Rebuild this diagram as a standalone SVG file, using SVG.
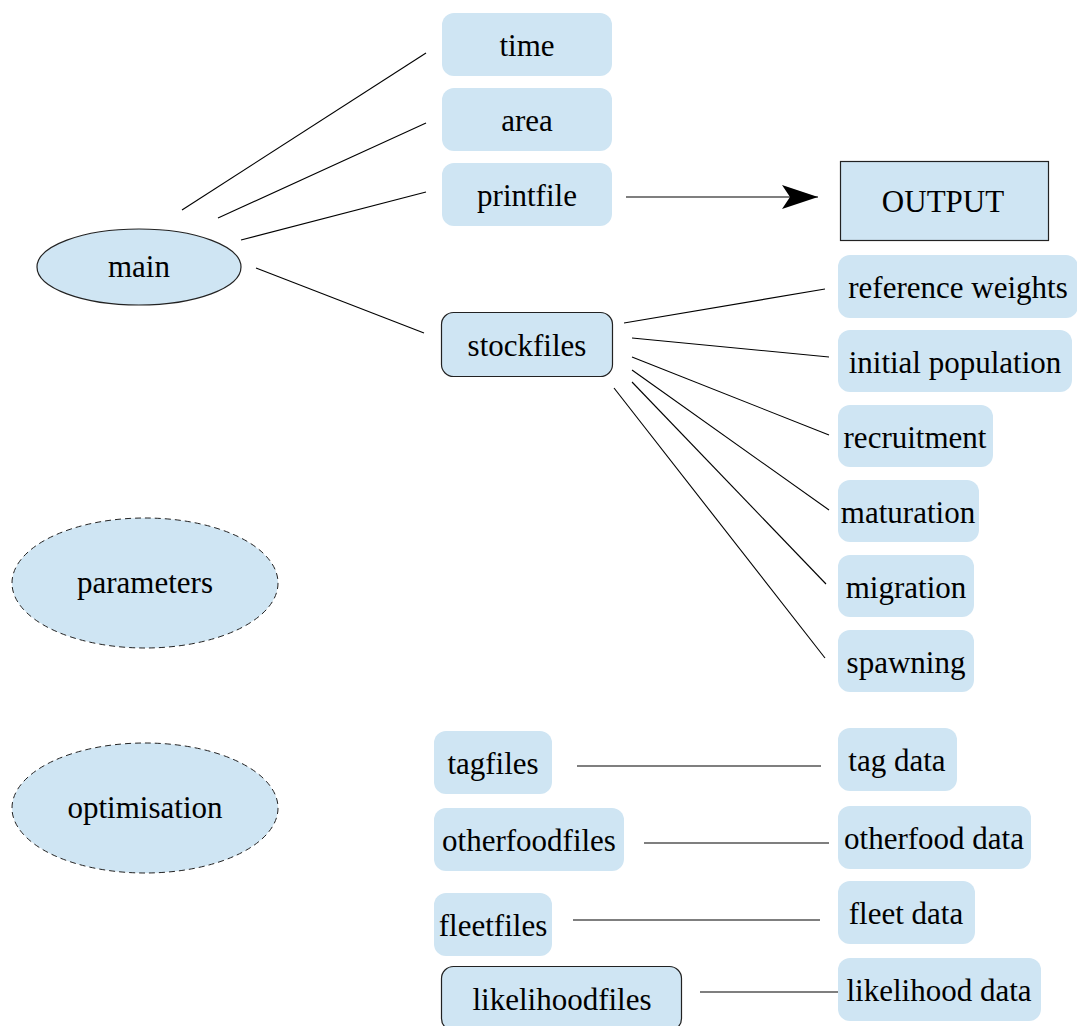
<svg xmlns="http://www.w3.org/2000/svg" width="1077" height="1026" viewBox="0 0 1077 1026" font-family="Liberation Serif, DejaVu Serif, serif">
<style>
.n{fill:#cfe5f3;stroke:none}
.s{fill:#cfe5f3;stroke:#222;stroke-width:1.2}
.d{fill:#cfe5f3;stroke:#222;stroke-width:1;stroke-dasharray:6 4}
text{font-size:31px;fill:#000;text-anchor:middle}
#connectors line{stroke:#000;stroke-width:1.1}
</style>
<defs>
<marker id="arr" markerUnits="userSpaceOnUse" markerWidth="40" markerHeight="30" refX="36" refY="12" orient="auto">
<path d="M0,0 L36,12 L0,24 L8,12 Z" fill="#000"/>
</marker>
</defs>
<rect width="1077" height="1026" fill="#fff"/>
<g id="connectors">
<line x1="182" y1="210" x2="426" y2="53"/>
<line x1="218" y1="218" x2="426" y2="123"/>
<line x1="241" y1="240" x2="426" y2="192"/>
<line x1="256" y1="268" x2="424" y2="333"/>
<line x1="626" y1="197" x2="818" y2="197" marker-end="url(#arr)"/>
<line x1="624" y1="323" x2="825" y2="289"/>
<line x1="632" y1="338" x2="829" y2="357"/>
<line x1="632" y1="357" x2="829" y2="435"/>
<line x1="632" y1="370" x2="829" y2="510"/>
<line x1="632" y1="382" x2="826" y2="584"/>
<line x1="614" y1="388" x2="825" y2="658"/>
<line x1="577" y1="766" x2="821" y2="766"/>
<line x1="644" y1="843" x2="829" y2="843"/>
<line x1="573" y1="920" x2="820" y2="920"/>
<line x1="700" y1="992" x2="838" y2="992"/>
</g>
<g id="main"><ellipse class="s" cx="139" cy="267" rx="102" ry="38"/><text x="139" y="277" font-family="Liberation Serif, serif">main</text></g>
<g id="parameters"><ellipse class="d" cx="145" cy="583" rx="133" ry="65"/><text x="145" y="593">parameters</text></g>
<g id="optimisation"><ellipse class="d" cx="145" cy="808" rx="133" ry="65"/><text x="145" y="818">optimisation</text></g>
<g id="time"><rect class="n" x="442" y="13" width="170" height="63" rx="12"/><text x="527" y="56">time</text></g>
<g id="area"><rect class="n" x="442" y="88" width="170" height="63" rx="12"/><text x="527" y="131">area</text></g>
<g id="printfile"><rect class="n" x="442" y="163" width="170" height="63" rx="12"/><text x="527" y="206">printfile</text></g>
<g id="stockfiles"><rect class="s" x="441.5" y="312.5" width="171" height="64" rx="12"/><text x="527" y="356">stockfiles</text></g>
<g id="output"><rect class="s" x="840.5" y="161.5" width="208" height="79"/><text x="943" y="212">OUTPUT</text></g>
<g id="refweights"><rect class="n" x="838" y="255" width="240" height="63" rx="12"/><text x="958" y="298">reference weights</text></g>
<g id="initpop"><rect class="n" x="838" y="330" width="234" height="62" rx="12"/><text x="955" y="373">initial population</text></g>
<g id="recruitment"><rect class="n" x="838" y="405" width="155" height="62" rx="12"/><text x="915" y="448">recruitment</text></g>
<g id="maturation"><rect class="n" x="838" y="480" width="141" height="62" rx="12"/><text x="908" y="523">maturation</text></g>
<g id="migration"><rect class="n" x="838" y="555" width="136" height="62" rx="12"/><text x="906" y="598">migration</text></g>
<g id="spawning"><rect class="n" x="838" y="630" width="136" height="62" rx="12"/><text x="906" y="673">spawning</text></g>
<g id="tagfiles"><rect class="n" x="434" y="731" width="118" height="63" rx="12"/><text x="493" y="774">tagfiles</text></g>
<g id="otherfoodfiles"><rect class="n" x="434" y="808" width="190" height="63" rx="12"/><text x="529" y="851">otherfoodfiles</text></g>
<g id="fleetfiles"><rect class="n" x="434" y="893" width="118" height="63" rx="12"/><text x="493" y="936">fleetfiles</text></g>
<g id="likelihoodfiles"><rect class="s" x="441.5" y="966.5" width="240" height="64" rx="12"/><text x="562" y="1010">likelihoodfiles</text></g>
<g id="tagdata"><rect class="n" x="838" y="728" width="119" height="63" rx="12"/><text x="897" y="771">tag data</text></g>
<g id="otherfooddata"><rect class="n" x="838" y="806" width="193" height="63" rx="12"/><text x="934" y="849">otherfood data</text></g>
<g id="fleetdata"><rect class="n" x="838" y="881" width="137" height="63" rx="12"/><text x="906" y="924">fleet data</text></g>
<g id="likelihooddata"><rect class="n" x="838" y="958" width="203" height="63" rx="12"/><text x="939" y="1001">likelihood data</text></g>
</svg>
